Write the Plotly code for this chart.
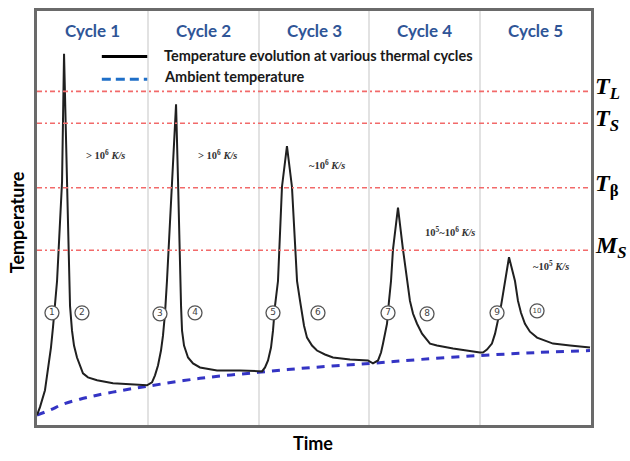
import plotly.graph_objects as go

# ---------------- data ----------------
# Time in cycle units (cycle k spans k-1 .. k), temperature in arbitrary units
cycle_names = ["Cycle 1", "Cycle 2", "Cycle 3", "Cycle 4", "Cycle 5"]
cycle_centers = [0.5, 1.5, 2.5, 3.5, 4.5]

temp_t = [0.000, 0.027, 0.072, 0.099, 0.126, 0.144, 0.162, 0.181, 0.226, 0.244,
          0.271, 0.289, 0.298, 0.316, 0.334, 0.361, 0.388, 0.415, 0.460, 0.542, 0.686, 0.839, 0.993,
          1.038, 1.065, 1.092, 1.119, 1.137, 1.155, 1.173, 1.218, 1.255,
          1.273, 1.291, 1.300, 1.309, 1.327, 1.363, 1.408, 1.471, 1.625, 1.832, 1.995,
          2.031, 2.058, 2.085, 2.112, 2.130, 2.148, 2.175, 2.211, 2.256,
          2.301, 2.347, 2.374, 2.392, 2.410, 2.437, 2.482, 2.527, 2.599, 2.671, 2.825, 2.987, 3.032,
          3.078, 3.105, 3.123, 3.141, 3.159, 3.177, 3.195, 3.213, 3.258,
          3.303, 3.339, 3.366, 3.394, 3.430, 3.475, 3.547, 3.610, 3.755, 3.998,
          4.025, 4.061, 4.106, 4.134, 4.161, 4.188, 4.206, 4.224, 4.260,
          4.314, 4.341, 4.368, 4.404, 4.449, 4.513, 4.585, 4.657, 4.811, 4.991]
temp_T = [10, 18, 35, 55, 78, 98, 125, 145, 245, 374,
          245, 145, 120, 95, 80, 68, 59, 52, 48, 45, 42, 41, 40,
          43, 50, 60, 75, 90, 112, 145, 245, 323,
          245, 145, 120, 95, 80, 68, 62, 58, 55, 55, 54,
          54, 58, 65, 78, 95, 120, 145, 240, 281,
          240, 145, 125, 112, 100, 88, 80, 75, 71, 68, 66, 65, 62,
          65, 73, 82, 92, 102, 125, 145, 177, 219,
          177, 145, 125, 112, 102, 92, 82, 80, 77, 73,
          73, 76, 82, 92, 105, 120, 132, 145, 169,
          145, 125, 113, 102, 94, 88, 85, 82, 80, 78]

ambient_t = [0.000, 0.117, 0.235, 0.388, 0.542, 0.776, 0.993, 1.471, 1.995,
             2.491, 3.005, 3.457, 3.998, 4.513, 4.991]
ambient_T = [10, 15, 21, 26, 30, 35, 39, 47, 53, 58, 62, 66, 70, 73, 75]

level_names = ["<b><i>T</i></b><sub><b><i>L</i></b></sub>",
               "<b><i>T</i></b><sub><b><i>S</i></b></sub>",
               "<b><i>T</i></b><sub><b>β</b></sub>",
               "<b><i>M</i></b><sub><b><i>S</i></b></sub>"]
level_T = [336, 304, 239, 176]

rate_text = ["&gt; 10<sup>6</sup> <i>K/s</i>", "&gt; 10<sup>6</sup> <i>K/s</i>",
             "~10<sup>6</sup> <i>K/s</i>", "10<sup>5</sup>~10<sup>6</sup> <i>K/s</i>",
             "~10<sup>5</sup> <i>K/s</i>"]
rate_t = [0.614, 1.625, 2.617, 3.727, 4.639]
rate_T = [272, 272, 262, 195, 161]

stage_labels = ["1", "2", "3", "4", "5", "6", "7", "8", "9", "10"]
stage_t = [0.135, 0.406, 1.110, 1.426, 2.130, 2.536, 3.168, 3.520, 4.152, 4.513]
stage_T = [113, 113, 112, 113, 113, 113, 113, 112, 113, 115]

legend_labels = ["Temperature evolution at various thermal cycles", "Ambient temperature"]

# ---------------- figure ----------------
fig = go.Figure()

fig.add_trace(go.Scatter(x=ambient_t, y=ambient_T, mode="lines",
                         line=dict(color="#3434c4", width=3, dash="8px,7px", shape="spline"),
                         hoverinfo="skip", showlegend=False))
fig.add_trace(go.Scatter(x=temp_t, y=temp_T, mode="lines",
                         line=dict(color="#202020", width=2),
                         hoverinfo="skip", showlegend=False))
fig.add_trace(go.Scatter(x=stage_t, y=stage_T, mode="markers+text",
                         text=stage_labels, textposition="middle center",
                         textfont=dict(family="DejaVu Sans", size=[9]*9 + [7], color="#444"),
                         marker=dict(symbol="circle", size=14, color="white",
                                     line=dict(color="#555", width=1.3)),
                         hoverinfo="skip", showlegend=False))

# horizontal reference levels
for T, name in zip(level_T, level_names):
    fig.add_shape(type="line", xref="paper", yref="y", x0=0, x1=1, y0=T, y1=T,
                  line=dict(color="#f26a6a", width=1.6, dash="5px,3px,2px,3px"))
    fig.add_annotation(xref="paper", yref="y", x=1.004, y=T + 3, text=name,
                       xanchor="left", yanchor="middle", showarrow=False,
                       font=dict(family="Liberation Serif", size=24, color="black"))

# cycle titles
for c, name in zip(cycle_centers, cycle_names):
    fig.add_annotation(xref="x", yref="paper", x=c, y=0.954, text=f"<b>{name}</b>",
                       xanchor="center", yanchor="middle", showarrow=False,
                       font=dict(family="Lato", size=17, color="#2f5597"))

# rate annotations
for t, T, txt in zip(rate_t, rate_T, rate_text):
    fig.add_annotation(x=t, y=T, text=f"<b>{txt}</b>", showarrow=False,
                       xanchor="center", yanchor="middle",
                       font=dict(family="Liberation Serif", size=10.5, color="#333333"))

# legend (manual)
fig.add_shape(type="line", xref="paper", yref="paper", x0=0.117, x1=0.199, y0=0.890, y1=0.890,
              line=dict(color="black", width=3))
fig.add_shape(type="line", xref="paper", yref="paper", x0=0.117, x1=0.199, y0=0.835, y1=0.835,
              line=dict(color="#1f6fc8", width=3, dash="9px,5px"))
for yy, lab in zip([0.893, 0.842], legend_labels):
    fig.add_annotation(xref="paper", yref="paper", x=0.226, y=yy, text=f"<b>{lab}</b>",
                       xanchor="left", yanchor="middle", showarrow=False,
                       font=dict(family="Lato", size=14.5, color="#1a1a1a"))

# axis titles
fig.add_annotation(xref="paper", yref="paper", x=0.498, y=-0.043, text="<b>Time</b>",
                   showarrow=False, xanchor="center", yanchor="middle",
                   font=dict(family="Lato", size=18, color="black"))
fig.add_annotation(xref="paper", yref="paper", x=-0.036, y=0.49, text="<b>Temperature</b>",
                   showarrow=False, textangle=-90, xanchor="center", yanchor="middle",
                   font=dict(family="Lato", size=18, color="black"))

fig.update_xaxes(range=[0, 5], tickvals=[1, 2, 3, 4], showticklabels=False, ticks="",
                 showgrid=True, gridcolor="#e2e2e2", gridwidth=1.5, zeroline=False,
                 showline=True, mirror=True, linecolor="#6a6a6a", linewidth=2.5)
fig.update_yaxes(range=[0, 417], showticklabels=False, ticks="", showgrid=False,
                 zeroline=False, showline=True, mirror=True, linecolor="#6a6a6a", linewidth=2.5)

fig.update_layout(width=630, height=461, margin=dict(l=37, r=39, t=8, b=36),
                  plot_bgcolor="white", paper_bgcolor="white", showlegend=False)

fig.write_html("out.html", config={"displayModeBar": False},
               post_script="document.body.style.margin='0px';document.body.style.overflow='hidden';")
